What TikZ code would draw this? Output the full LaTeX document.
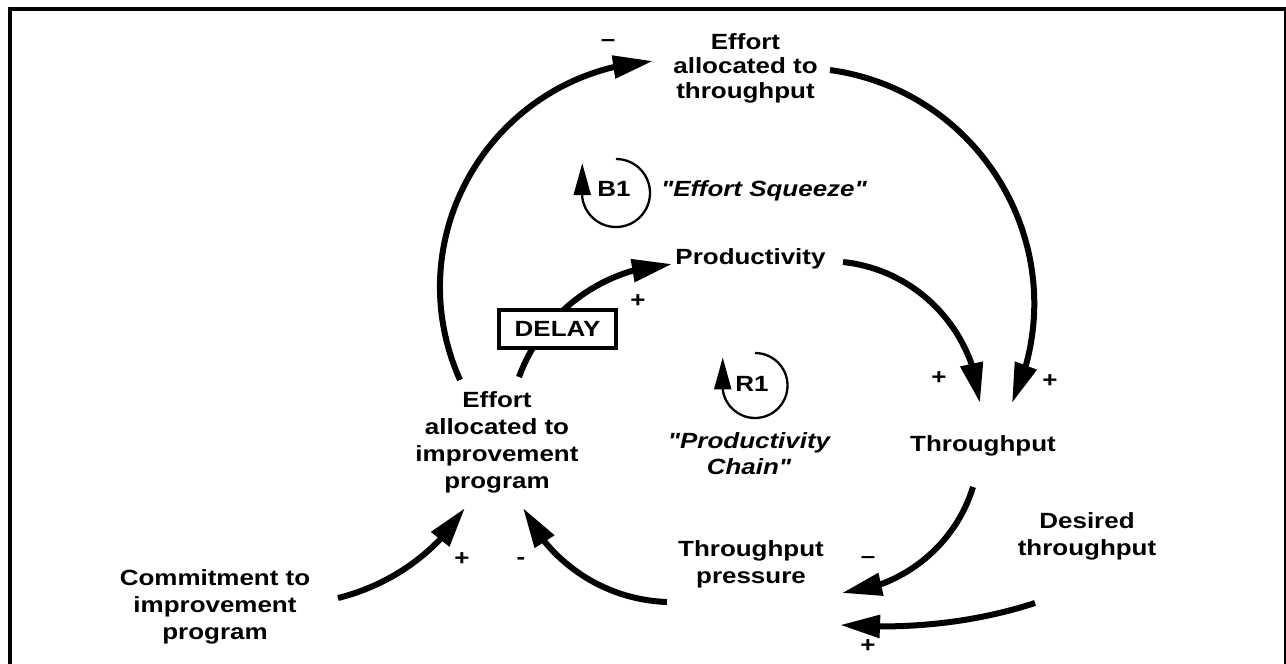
\documentclass[tikz,border=0pt]{standalone}
\usepackage{fontspec}
% plain family: no TeX ligature mapping, so " stays a straight quote
\newfontfamily\diagfont{Liberation Sans}[FakeStretch=1.18]
\usetikzlibrary{arrows.meta,bending}

\begin{document}
\begin{tikzpicture}[x=1pt,y=1pt,
  every node/.style={inner sep=0pt, font=\diagfont\fontsize{22}{27}\selectfont\bfseries},
  var/.style={align=center, anchor=north},
  tight/.style={font=\diagfont\fontsize{22}{24.5}\selectfont\bfseries},
  quote/.style={font=\diagfont\fontsize{22}{26.5}\selectfont\bfseries\itshape},
  sign/.style={anchor=base},
  link/.style={line width=6pt, -{Triangle[length=40pt,width=22pt]}},
  loopline/.style={line width=2.3pt, -{Triangle[length=32pt,width=17pt]}},
  delaybox/.style={draw, line width=4pt, fill=white, minimum width=117pt, minimum height=38pt}
]
% page and frame
\fill[white] (0,0) rectangle (1286,-664);
\useasboundingbox (0,0) rectangle (1286,-664);
\draw[line width=4pt] (10,-664) -- (10,-8.7) -- (1286,-8.7);
\draw[line width=1.5pt] (1285.2,-8.7) -- (1285.2,-664);

% variables
\node[var, tight] (eat) at (745.5,-33) {Effort\\allocated to\\throughput};
\node[var] (prod) at (750.5,-248) {Productivity};
\node[var] (thr) at (983,-435) {Throughput};
\node[var] (eaip) at (497,-391) {Effort\\allocated to\\improvement\\program};
\node[var] (press) at (751,-540) {Throughput\\pressure};
\node[var] (des) at (1087,-512) {Desired\\throughput};
\node[var] (com) at (215,-569) {Commitment to\\improvement\\program};

% loop names
\node[var, quote] (squeeze) at (764,-180) {"Effort Squeeze"};
\node[var, quote] (chain) at (749,-432) {"Productivity\\Chain"};

% causal links
\draw[link] ([shift={(-37,11)}]eaip.north) .. controls +(114:159) and +(184:159) .. ([shift={(-92.5,-28)}]eat.north);
\draw[link] ([shift={(84.5,-37)}]eat.north) .. controls +(-8:159) and +(65:159) .. ([shift={(29,32)}]thr.north);
\draw[link] ([shift={(92.5,-14)}]prod.north) .. controls +(-6:74) and +(95:74) .. ([shift={(-3,32)}]thr.north);
\draw[link] ([shift={(22,14)}]eaip.north) .. controls +(70:69) and +(183:69) .. ([shift={(-78.5,-16)}]prod.north);
\draw[link] ([shift={(-10,-52)}]thr.north) .. controls +(-107:61) and +(5:61) .. ([shift={(91,-53)}]press.north);
\draw[link] ([shift={(-52,-91)}]des.north) .. controls +(-162:66) and +(-4:66) .. ([shift={(89,-85)}]press.north);
\draw[link] ([shift={(-84,-62)}]press.north) .. controls +(178:62) and +(-64:62) .. ([shift={(26,-117)}]eaip.north);
\draw[link] ([shift={(123,-29)}]com.north) .. controls +(14:54) and +(237:54) .. ([shift={(-32,-117)}]eaip.north);

% delay mark on the productivity link
\node[delaybox] (delay) at (557.5,-329) {DELAY};

% link polarities
\node[sign] (m1) at (608,-46) {–};
\node[sign] (p1) at (638,-307.6) {+};
\node[sign] (p2) at (939,-384.6) {+};
\node[sign] (p3) at (1050,-387.6) {+};
\node[sign] (m2) at (868,-563) {–};
\node[sign] (p4) at (868,-652) {+};
\node[sign] (p5) at (462,-565.6) {+};
\node[sign] (m3) at (521,-564) {-};

% loop markers
\coordinate (b1c) at (616,-193);
\draw[loopline] ([shift={(90:34)}]b1c) arc[start angle=90, end angle=-173, radius=34pt] -- ++(0,34);
\node (b1) at (614,-189) {B1};
\coordinate (r1c) at (755,-385.5);
\draw[loopline] ([shift={(90:32.5)}]r1c) arc[start angle=90, end angle=-173, radius=32.5pt] -- ++(0,32);
\node (r1) at (752,-384) {R1};
\end{tikzpicture}
\end{document}
